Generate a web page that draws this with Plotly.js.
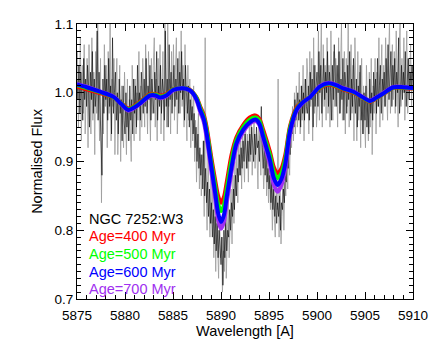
<!DOCTYPE html>
<html>
<head>
<meta charset="utf-8">
<script src="https://cdn.plot.ly/plotly-3.0.1.min.js"></script>
<style>
  html, body { margin: 0; padding: 0; background: #fff; }
  #graph { width: 436px; height: 349px; }
</style>
</head>
<body>
<div id="graph"></div>
<script>
// observed spectrum, sampled every 0.1 A from 5875.0 (black) and from 5875.05 (grey)
const specStart = 5875.0;
const specStep = 0.1;
const fluxBlack = [
  1.02,0.99,1.04,0.97,1.03,1.00,0.96,1.05,0.99,1.02,
  0.98,1.04,1.01,0.95,1.03,0.99,1.06,0.97,1.02,0.98,
  1.00,1.09,0.96,1.03,0.99,0.95,0.88,1.02,0.97,1.04,
  0.99,1.02,0.96,1.05,0.98,1.01,0.94,1.08,0.97,1.00,
  1.03,0.96,1.00,0.94,1.02,0.97,0.99,0.93,1.01,0.96,
  0.94,1.00,0.95,0.98,0.93,1.01,0.96,0.99,0.94,1.02,
  0.97,1.01,0.95,1.04,0.98,1.00,0.96,1.03,0.99,0.97,
  1.02,0.98,1.05,0.97,1.01,0.99,1.04,0.96,1.02,1.00,
  0.97,1.03,0.99,1.06,0.96,1.01,0.98,1.04,0.97,1.02,
  1.00,0.96,1.09,0.98,1.02,0.95,1.07,0.99,1.03,0.97,
  1.01,1.04,0.98,1.02,0.99,1.05,0.97,1.03,1.00,1.06,
  0.99,1.02,0.96,1.04,1.00,0.97,1.01,0.95,0.99,0.96,
  0.98,0.94,0.97,0.92,0.95,0.90,0.94,0.89,0.92,0.88,
  0.91,0.86,0.93,0.85,0.89,0.84,0.87,0.82,0.86,0.81,
  0.84,0.79,0.83,0.78,0.82,0.77,0.81,0.76,0.80,0.78,
  0.75,0.79,0.72,0.80,0.76,0.82,0.77,0.80,0.79,0.83,
  0.80,0.84,0.82,0.86,0.83,0.88,0.85,0.89,0.87,0.91,
  0.88,0.92,0.89,0.93,0.90,0.94,0.91,0.89,0.93,0.90,
  0.94,0.91,0.95,0.92,0.90,0.94,0.91,0.95,0.92,0.93,
  0.90,0.94,0.98,0.92,0.89,0.93,0.88,0.91,0.87,0.89,
  0.86,0.88,0.84,0.87,0.83,0.86,0.82,0.85,0.81,0.84,
  0.82,0.85,0.80,0.84,0.83,0.86,0.84,0.88,0.87,0.90,
  0.89,0.93,0.91,0.95,0.94,0.97,0.95,0.99,0.96,0.98,
  1.00,0.96,0.99,0.95,1.01,0.97,1.00,0.96,1.02,0.98,
  0.97,1.01,0.96,1.03,0.99,1.02,0.95,1.04,0.98,1.01,
  1.03,0.98,1.06,1.00,1.04,0.97,1.02,1.05,0.99,1.03,
  1.00,1.06,0.98,1.03,1.01,0.96,1.04,0.99,1.07,1.01,
  0.98,1.04,1.00,1.06,0.97,1.02,0.99,1.05,0.96,1.03,
  1.01,0.97,1.04,0.99,1.06,0.96,1.02,0.98,1.05,1.00,
  0.97,1.02,0.95,1.01,0.98,1.04,0.96,0.99,0.94,1.00,
  0.96,1.01,0.95,0.99,0.94,1.02,0.97,1.00,0.96,1.03,
  0.99,1.02,0.97,1.05,0.98,1.01,1.04,0.97,1.02,1.00,
  1.03,0.98,1.05,1.00,1.07,0.99,1.02,1.06,0.98,1.04,
  1.01,1.05,0.98,1.03,1.00,1.08,0.97,1.02,1.04,0.99,
  1.03,1.00,1.06,0.98,1.02,1.05,0.99,1.03,1.01,1.04,
  1.01
];
const fluxGrey = [
  1.06,0.95,1.01,1.08,0.93,1.04,0.97,1.07,0.94,1.00,
  1.05,0.92,1.07,0.99,0.94,1.08,0.96,1.03,0.91,1.06,
  0.97,1.12,1.01,0.93,1.05,0.84,1.00,0.94,1.07,0.98,
  1.04,0.92,1.06,0.97,1.12,0.93,1.02,0.98,1.05,0.91,
  1.00,1.05,0.91,0.98,1.04,0.90,1.01,0.96,0.92,1.03,
  0.97,0.91,1.02,0.93,0.99,0.95,0.90,1.04,0.97,0.93,
  1.02,0.94,1.00,0.96,1.06,0.93,1.01,0.95,1.05,0.98,
  0.95,1.07,0.99,0.94,1.06,1.00,0.93,1.05,0.97,1.04,
  1.08,0.95,1.02,0.93,1.05,0.99,1.07,0.94,1.00,1.06,
  0.93,1.12,1.00,0.95,1.11,0.98,1.02,0.94,1.06,0.99,
  1.07,0.96,1.03,1.08,0.94,1.01,1.06,0.97,1.09,0.98,
  1.04,0.95,1.07,0.98,0.93,1.04,0.96,1.02,0.92,1.00,
  0.93,1.01,0.90,0.96,0.87,0.93,0.97,0.86,0.91,0.85,
  0.88,0.93,0.82,1.08,0.86,0.80,0.91,0.84,0.79,0.88,
  0.81,0.86,0.76,0.84,0.74,0.83,0.78,0.73,0.82,0.76,
  0.79,0.71,0.77,0.74,0.83,0.73,0.79,0.85,0.76,0.81,
  0.86,0.78,0.88,0.81,0.90,0.85,0.92,0.84,0.94,0.88,
  0.93,0.86,0.95,0.91,0.87,0.96,0.89,0.94,0.87,0.95,
  0.90,0.96,0.88,0.93,0.97,0.89,0.94,0.91,0.86,0.96,
  0.92,0.88,0.95,0.91,0.86,0.90,0.93,0.85,0.90,0.84,
  0.89,0.83,0.87,0.80,0.86,0.82,0.79,0.86,0.83,1.02,
  0.79,0.87,0.78,0.82,0.88,0.80,0.87,0.85,0.91,0.86,
  0.93,0.88,0.96,0.92,0.98,0.93,1.00,0.94,1.01,0.95,
  0.97,1.03,0.94,1.01,0.96,1.04,0.93,1.02,0.97,1.05,
  1.02,0.94,1.06,0.98,1.05,0.93,1.08,0.97,1.04,0.95,
  0.99,1.09,0.96,1.03,1.10,0.95,1.07,0.98,1.04,0.96,
  1.08,0.97,1.04,0.95,1.09,1.00,0.96,1.06,0.98,1.05,
  1.02,0.95,1.08,0.97,1.03,1.10,0.96,1.01,1.06,0.94,
  1.05,0.98,1.10,0.95,1.02,1.07,0.97,1.04,0.93,1.08,
  1.01,0.93,1.06,0.96,1.03,0.92,1.05,0.94,1.01,0.97,
  0.92,1.04,0.98,0.93,1.03,0.95,1.05,0.91,1.01,0.97,
  1.05,0.94,1.03,0.98,1.08,0.95,1.02,1.07,0.96,1.04,
  0.98,1.08,1.01,0.96,1.05,1.10,0.97,1.03,1.07,0.99,
  1.06,0.97,1.09,1.02,0.95,1.06,1.10,0.98,1.05,1.00,
  1.08,0.96,1.03,1.09,0.97,1.05,1.01,1.07,0.98,1.04
];

// model spectra, read at these wavelengths
const modelWave = [
  5875.0,5876.0,5877.4,5878.8,5879.6,5880.35,5881.0,5881.6,5882.6,5883.2,
  5883.65,5884.3,5885.0,5886.05,5886.7,5887.1,5887.5,5887.83,5888.2,5888.5,
  5889.0,5889.4,5889.7,5890.0,5890.3,5890.6,5891.1,5891.6,5892.3,5893.0,
  5893.6,5894.0,5894.4,5895.1,5895.5,5895.9,5896.3,5896.7,5897.2,5897.9,
  5898.6,5899.3,5900.3,5901.2,5902.0,5902.7,5903.8,5904.7,5905.5,5906.2,
  5906.9,5907.95,5909.0,5910.0
];
const age400 = [
  1.009,1.005,0.9995,0.993,0.985,0.977,0.981,0.987,0.998,0.998,
  0.996,0.998,1.005,1.007,1.005,1.000,0.992,0.980,0.968,0.950,
  0.905,0.872,0.850,0.840,0.848,0.870,0.910,0.935,0.953,0.964,
  0.967,0.962,0.946,0.914,0.892,0.883,0.890,0.910,0.952,0.979,
  0.988,0.994,1.007,1.012,1.009,1.005,1.000,0.993,0.987,0.992,
  0.998,1.007,1.007,1.006
];
const age500 = [
  1.011,1.007,1.001,0.9935,0.9845,0.976,0.980,0.986,0.997,0.997,
  0.9945,0.997,1.0045,1.007,1.0045,0.9995,0.991,0.978,0.965,0.946,
  0.899,0.864,0.838,0.828,0.836,0.860,0.902,0.931,0.950,0.961,
  0.964,0.959,0.941,0.909,0.885,0.876,0.883,0.904,0.949,0.977,
  0.9875,0.994,1.008,1.013,1.010,1.006,1.001,0.9935,0.9875,0.9925,
  0.9985,1.0075,1.0075,1.0065
];
const age600 = [
  1.012,1.008,1.0015,0.994,0.984,0.975,0.979,0.985,0.996,0.996,
  0.993,0.996,1.004,1.0065,1.004,0.999,0.989,0.975,0.962,0.941,
  0.892,0.854,0.825,0.812,0.822,0.849,0.892,0.926,0.946,0.957,
  0.961,0.955,0.936,0.902,0.876,0.866,0.875,0.897,0.945,0.976,
  0.987,0.994,1.009,1.014,1.011,1.0065,1.0015,0.994,0.988,0.993,
  0.999,1.008,1.008,1.007
];
const age700 = [
  1.013,1.009,1.002,0.9945,0.9835,0.974,0.978,0.984,0.995,0.995,
  0.992,0.995,1.0035,1.0065,1.0035,0.9985,0.987,0.972,0.958,0.935,
  0.885,0.845,0.815,0.802,0.812,0.840,0.885,0.921,0.943,0.955,
  0.959,0.953,0.932,0.895,0.866,0.856,0.866,0.890,0.941,0.974,
  0.9865,0.994,1.0095,1.0145,1.0115,1.007,1.002,0.9945,0.9885,0.9935,
  0.9995,1.0085,1.0085,1.0075
];

const labels = ["NGC 7252:W3", "Age=400 Myr", "Age=500 Myr", "Age=600 Myr", "Age=700 Myr"];
const labelColors = ["#000000", "#ff0000", "#00ff00", "#0000ff", "#a030f0"];

const waveBlack = fluxBlack.map((_, i) => specStart + i * specStep);
const waveGrey = fluxGrey.map((_, i) => specStart + specStep / 2 + i * specStep);

function model(y, color) {
  return {
    x: modelWave, y: y, mode: "lines", type: "scatter",
    line: { color: color, width: 4, shape: "spline", smoothing: 0.8 },
    hoverinfo: "skip"
  };
}

const traces = [
  { x: waveGrey, y: fluxGrey, mode: "lines", type: "scatter",
    line: { color: "#9a9a9a", width: 0.8 }, hoverinfo: "skip" },
  { x: waveBlack, y: fluxBlack, mode: "lines", type: "scatter",
    line: { color: "#000000", width: 0.6 }, hoverinfo: "skip" },
  model(age400, labelColors[1]),
  model(age500, labelColors[2]),
  model(age700, labelColors[4]),
  model(age600, labelColors[3])
];

const font = { family: "Liberation Sans, Arial, sans-serif", color: "#000" };

const axisBase = {
  showgrid: false, zeroline: false,
  showline: true, linecolor: "#000", linewidth: 1,
  mirror: "allticks", ticks: "inside", ticklen: 7, tickwidth: 1, tickcolor: "#000",
  tickfont: Object.assign({ size: 13.5 }, font)
};

const annotations = labels.map((t, i) => ({
  text: t, xref: "paper", yref: "paper",
  x: 0.03, y: 0.292 - i * 0.064,
  xanchor: "left", yanchor: "middle", showarrow: false,
  font: Object.assign({}, font, { size: 14.5, color: labelColors[i] })
}));

const layout = {
  width: 436, height: 349,
  margin: { l: 77, r: 23, t: 24, b: 50 },
  paper_bgcolor: "#fff", plot_bgcolor: "#fff",
  showlegend: false,
  font: font,
  xaxis: Object.assign({}, axisBase, {
    range: [5875, 5910], dtick: 5, tick0: 5875, ticklabelstandoff: 4,
    minor: { dtick: 1, ticks: "inside", ticklen: 4, tickcolor: "#000", tickwidth: 1 },
    title: { text: "Wavelength [A]", font: Object.assign({ size: 14.5 }, font), standoff: 3 }
  }),
  yaxis: Object.assign({}, axisBase, {
    range: [0.7, 1.1], dtick: 0.1, tick0: 0.7, tickformat: ".1f",
    minor: { dtick: 0.01, ticks: "inside", ticklen: 4, tickcolor: "#000", tickwidth: 1 },
    title: { text: "Normalised Flux", font: Object.assign({ size: 14.5 }, font), standoff: 8 }
  }),
  annotations: annotations
};

Plotly.newPlot("graph", traces, layout, { staticPlot: true });
</script>
</body>
</html>
